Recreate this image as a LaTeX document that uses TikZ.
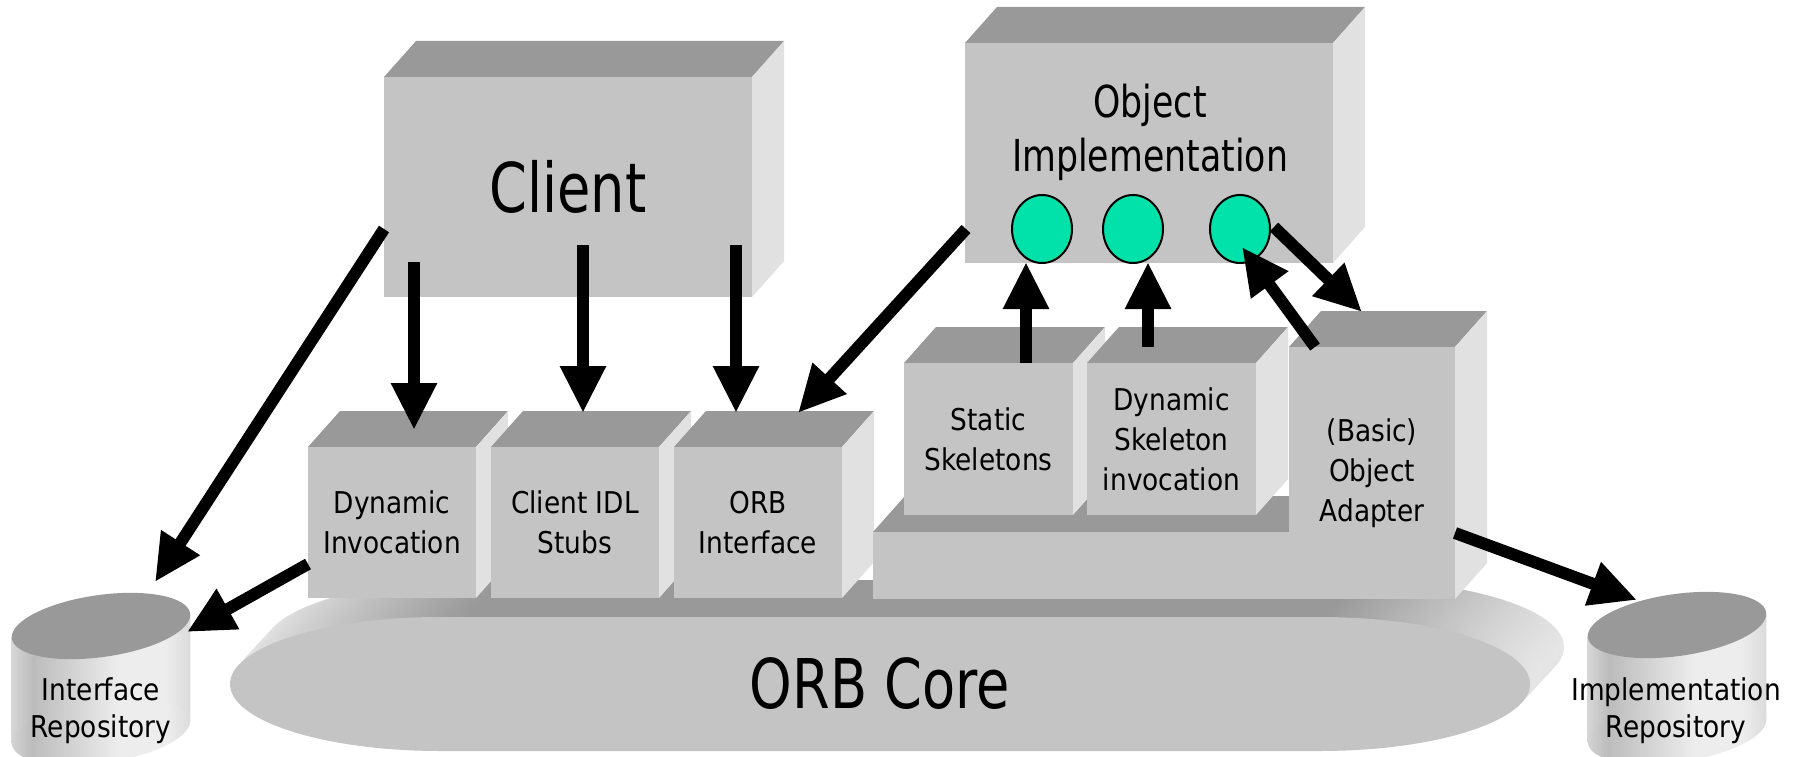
\documentclass[tikz,border=0pt]{standalone}
\usepackage{fontspec}
\setmainfont{DejaVu Sans}[FakeStretch=0.88]
\newfontfamily\bigfont{DejaVu Sans}[FakeStretch=0.79]
\usetikzlibrary{arrows.meta,calc,shapes.geometric}

\definecolor{boxfront}{HTML}{C4C4C4}
\definecolor{boxtop}{HTML}{999999}
\definecolor{boxside}{HTML}{E1E1E1}
\definecolor{corelight}{HTML}{E6E6E6}
\definecolor{skeljade}{HTML}{00E2AA}
\definecolor{repoA}{HTML}{D6D6D6}
\definecolor{repoB}{HTML}{BCBCBC}
\definecolor{repoC}{HTML}{EDEDED}
\definecolor{repoD}{HTML}{DADADA}

\pgfdeclarehorizontalshading{coreside}{100bp}{color(0bp)=(corelight); color(25bp)=(corelight);
	color(34bp)=(boxtop); color(67bp)=(boxtop); color(75bp)=(corelight); color(100bp)=(corelight)}
\pgfdeclarehorizontalshading{repobody}{100bp}{color(0bp)=(repoA); color(25bp)=(repoA);
	color(31bp)=(repoB); color(55bp)=(repoC); color(68bp)=(repoC); color(75bp)=(repoD); color(100bp)=(repoD)}

\newcommand\blockfont{\fontsize{15}{20}\selectfont}
\newcommand\repofont{\fontsize{15}{18.5}\selectfont}
\newcommand\clientfont{\bigfont\fontsize{34.3}{40}\selectfont}
\newcommand\objfont{\bigfont\fontsize{22}{27}\selectfont}

\begin{document}
\begin{tikzpicture}[x=0.5pt, y=0.5pt,
		block/.style={fill=boxfront, inner sep=0pt, outer sep=0pt, align=center, font=\blockfont,
			append after command={\pgfextra{
				\fill[boxtop] (\tikzlastnode.north west) -- ++(32,36) -- ([shift={(32,36)}]\tikzlastnode.north east) -- (\tikzlastnode.north east) -- cycle;
				\fill[boxside] (\tikzlastnode.north east) -- ++(32,36) -- ([shift={(32,36)}]\tikzlastnode.south east) -- (\tikzlastnode.south east) -- cycle;
			}}},
		skel/.style={ellipse, draw, line width=1pt, fill=skeljade, minimum width=30pt, minimum height=34pt, inner sep=0pt},
		repolabel/.style={align=center, font=\repofont},
		coreoutline/.style={insert path={(440,139) -- (1320,139) arc[start angle=90, end angle=-90, x radius=210, y radius=67]
			-- (440,5) arc[start angle=270, end angle=90, x radius=210, y radius=67] -- cycle}},
		flow/.style={line width=6pt, -{Triangle[length=23.5pt, width=21.5pt]}}]
	\fill[white] (0,0) rectangle (1807,756);
	\useasboundingbox (0,0) rectangle (1807,756);

	\foreach \t in {1,0.9,...,0.1}
		\shade[shading=coreside, shift={(34*\t,37*\t)}, coreoutline];
	\fill[boxfront, coreoutline];
	\node[font=\clientfont] (core) at (880,72) {ORB Core};

	\foreach \cx/\cy in {101/130, 1677/131} {
		\shade[shading=repobody] (\cx-89.3,\cy-11) -- (\cx+89.3,\cy+11) -- (\cx+89.3,\cy-95) -- (\cx-89.3,\cy-117) -- cycle;
		\shade[shading=repobody, rotate around={8:(\cx,\cy-106)}] (\cx,\cy-106) ellipse [x radius=90, y radius=31];
		\fill[boxtop, rotate around={8:(\cx,\cy)}] (\cx,\cy) ellipse [x radius=90, y radius=31];
	}
	\coordinate (irtop) at (101,130);
	\coordinate (imtop) at (1677,131);
	\node[repolabel] (intrepo) at (101,45.5) {Interface\\Repository};
	\node[repolabel] (implrepo) at (1676,45.5) {Implementation\\Repository};

	\node[block, minimum width=184pt, minimum height=110pt, font=\clientfont] (client) at (568,569) {Client};
	\node[block, minimum width=184pt, minimum height=110pt] (objimpl) at (1149,603) {};
	\node[font=\objfont, align=center] (objtext) at (1150,623.5) {Object\\Implementation};
	\node[skel] (sk1) at (1042,527) {};
	\node[skel] (sk2) at (1133,527) {};
	\node[skel] (sk3) at (1240,527) {};

	\node[block, minimum width=84pt, minimum height=75.5pt] (dii) at (392,233.5) {Dynamic\\Invocation};
	\node[block, minimum width=84pt, minimum height=75.5pt] (stubs) at (575,233.5) {Client IDL\\Stubs};
	\node[block, minimum width=84pt, minimum height=75.5pt] (orbif) at (758,233.5) {ORB\\Interface};

	\node[block, minimum width=208pt, minimum height=33.5pt] (skelbase) at (1081,190.5) {};
	\node[block, minimum width=84.5pt, minimum height=76pt] (statskel) at (988.5,317) {Static\\Skeletons};
	\node[block, minimum width=84.5pt, minimum height=76pt] (dynskel) at (1171.5,317) {Dynamic\\Skeleton\\invocation};
	\node[block, minimum width=83pt, minimum height=126pt] (adapter) at (1372,283) {(Basic)\\Object\\Adapter};

	\draw[flow] ($(client.south west)+(30,35)$) -- ($(dii.north west)+(106,17)$);
	\draw[flow] ($(client.south west)+(199,52)$) -- ($(stubs.north west)+(92,34)$);
	\draw[flow] ($(client.south west)+(352,52)$) -- ($(orbif.north west)+(62,34)$);
	\draw[flow] ($(client.south west)+(0,68)$) -- ($(irtop)+(54,44)$);
	\draw[flow] ($(dii.south west)+(0,34)$) -- ($(irtop)+(86,-6)$);
	\draw[flow] ($(objimpl.south west)+(1,34)$) -- ($(orbif.north east)+(-44,34)$);
	\draw[flow] ($(statskel.north)+(37.5,0)$) -- ($(sk1.south)+(-16,2)$);
	\draw[flow] ($(dynskel.north)+(-23.5,16)$) -- ($(sk2.south)+(15,2)$);
	\draw[flow] ($(adapter.north west)+(26,0)$) -- ($(sk3.center)+(2,-18)$);
	\draw[flow] ($(sk3.east)+(3,2)$) -- ($(adapter.north west)+(73,35)$);
	\draw[flow] ($(adapter.south east)+(0,66)$) -- ($(imtop)+(-40,25)$);
\end{tikzpicture}
\end{document}
